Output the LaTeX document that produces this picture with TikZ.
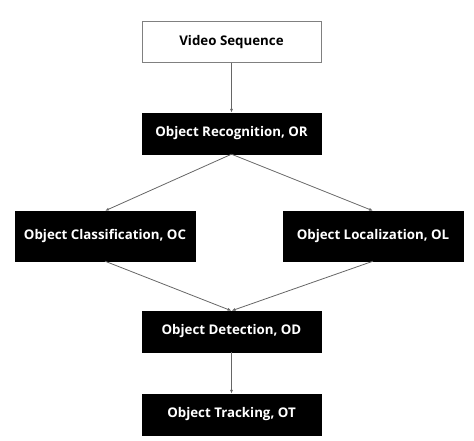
\documentclass[tikz,border=0pt]{standalone}
\usepackage{fontspec}
\setmainfont{Open Sans}
\usetikzlibrary{arrows.meta}
\begin{document}
\begin{tikzpicture}[x=1pt, y=-1pt, -{Latex[length=4pt,width=3pt]},
    stage/.style={draw=black, fill=black, text=white, minimum width=179pt, minimum height=41pt, font=\bfseries\fontsize{13.3}{15}\selectfont},
    inputbox/.style={stage, draw=gray, fill=white, text=black},
    link/.style={draw=gray!80!black, line width=0.8pt}]
            \useasboundingbox (0, 0) rectangle (474, 441);
            \node[inputbox] (vs) at (231.5, 42) {Video Sequence};
            \node[stage] (or) at (231.5, 133.5) {Object Recognition, OR};
            \node[stage, minimum width=180pt, minimum height=50pt] (oc) at (105, 236) {Object Classification, OC};
            \node[stage, minimum width=180pt, minimum height=50pt] (ol) at (373, 236) {Object Localization, OL};
            \node[stage] (od) at (231.5, 331.5) {Object Detection, OD};
            \node[stage] (ot) at (231.5, 414.5) {Object Tracking, OT};
            \draw[link] (vs) -- (or);
            \draw[link] (or.south) -- (oc.north);
            \draw[link] (or.south) -- (ol.north);
            \draw[link] (oc.south) -- (od.north);
            \draw[link] (ol.south) -- (od.north);
            \draw[link] (od) -- (ot);
        \end{tikzpicture}
\end{document}
